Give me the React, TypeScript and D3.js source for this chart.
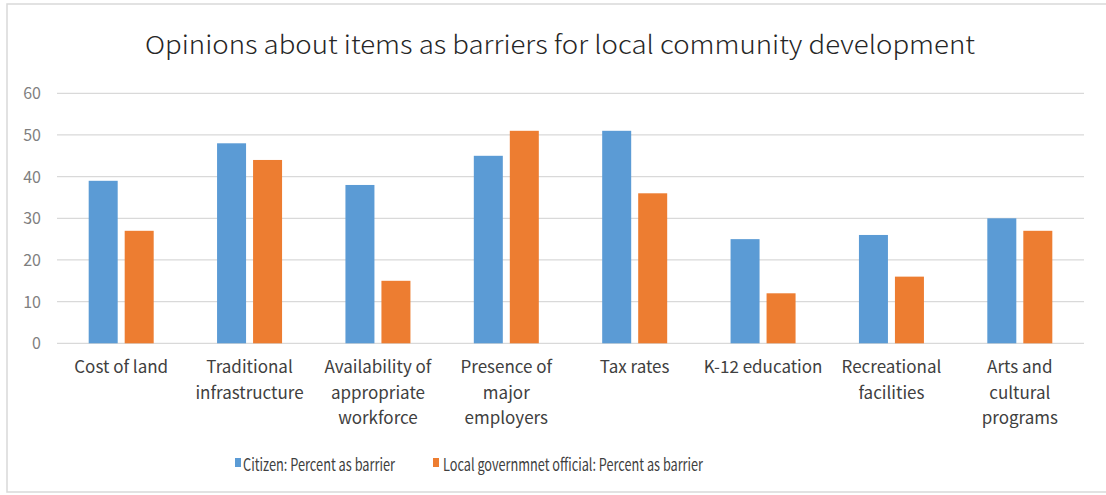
import React from "react";
import * as d3 from "d3";

const categories = [
  ["Cost of land"],
  ["Traditional", "infrastructure"],
  ["Availability of", "appropriate", "workforce"],
  ["Presence of", "major", "employers"],
  ["Tax rates"],
  ["K-12 education"],
  ["Recreational", "facilities"],
  ["Arts and", "cultural", "programs"],
];
const citizen = [39, 48, 38, 45, 51, 25, 26, 30];
const official = [27, 44, 15, 51, 36, 12, 16, 27];
const yTicks = [0, 10, 20, 30, 40, 50, 60];
const seriesNames = ["Citizen: Percent as barrier", "Local governmnet official: Percent as barrier"];
const title = "Opinions about items as barriers for local community development";

const W = 1106, H = 495;
const left = 57, right = 1084, top = 93.3, bottom = 343.3;
const FONT = "'Noto Sans CJK SC', 'Noto Sans', sans-serif";
const BLUE = "#5B9BD5", ORANGE = "#ED7D31";

export default function App() {
  const x = d3.scaleBand<number>().domain(d3.range(categories.length)).range([left, right]).paddingInner(0).paddingOuter(0);
  const y = d3.scaleLinear().domain([0, 60]).range([bottom, top]);
  const barW = 29, gap = 7;
  return (
    <svg width={W} height={H} style={{ position: "absolute", left: 0, top: 0, background: "#fff" }}>
      <rect x={7} y={4} width={1110} height={488} fill="#fff" stroke="#D9D9D9" strokeWidth={1.5} />
      <text x={145} y={54} textLength={830} lengthAdjust="spacingAndGlyphs" fontFamily={FONT} fontSize={25} fill="#262626" fontWeight={300}>{title}</text>
      {yTicks.map(t => (
        <g key={t}>
          <line x1={left} x2={right} y1={y(t)} y2={y(t)} stroke="#D9D9D9" strokeWidth={1.3} />
          <text x={41} y={y(t) + 6} textAnchor="end" fontFamily={FONT} fontSize={16} fill="#7F7F7F">{t}</text>
        </g>
      ))}
      {categories.map((c, i) => {
        const cx = (x(i) as number) + x.bandwidth() / 2;
        return (
          <g key={i}>
            <rect x={cx - gap / 2 - barW} y={y(citizen[i])} width={barW} height={y(0) - y(citizen[i])} fill={BLUE} />
            <rect x={cx + gap / 2} y={y(official[i])} width={barW} height={y(0) - y(official[i])} fill={ORANGE} />
            {c.map((line, j) => (
              <text key={j} x={cx} y={373 + j * 25.5} textAnchor="middle" fontFamily={FONT} fontSize={17} fill="#404040">{line}</text>
            ))}
          </g>
        );
      })}
      <rect x={235} y={458} width={6} height={9} fill={BLUE} />
      <text x={243} y={471} textLength={152} lengthAdjust="spacingAndGlyphs" fontFamily={FONT} fontSize={17} fill="#404040">{seriesNames[0]}</text>
      <rect x={433} y={458} width={6} height={9} fill={ORANGE} />
      <text x={443} y={471} textLength={260} lengthAdjust="spacingAndGlyphs" fontFamily={FONT} fontSize={17} fill="#404040">{seriesNames[1]}</text>
    </svg>
  );
}
